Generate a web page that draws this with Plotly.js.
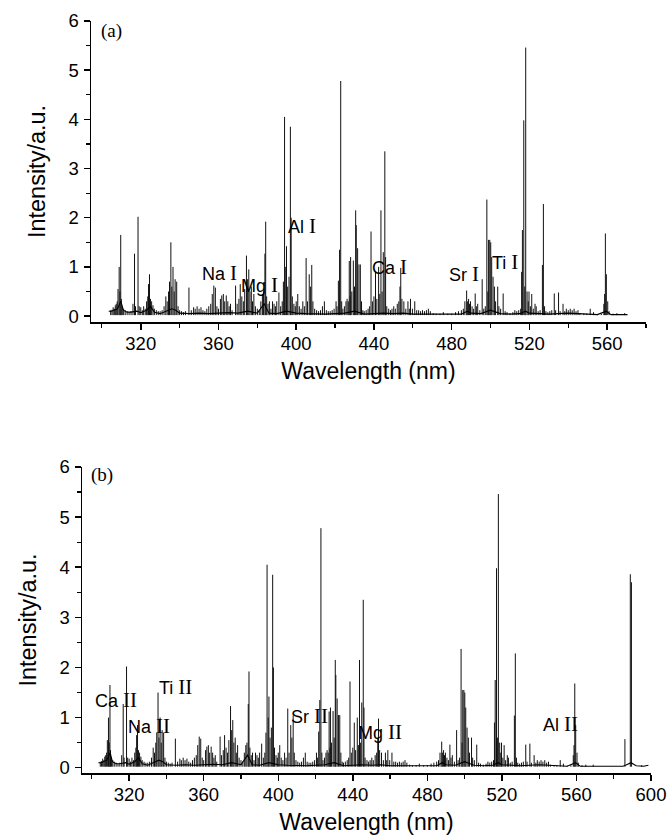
<!DOCTYPE html>
<html>
<head>
<meta charset="utf-8">
<script src="https://cdn.plot.ly/plotly-3.0.1.min.js"></script>
<style>
  html, body { margin: 0; padding: 0; background: #fff; }
  #chart { width: 672px; height: 838px; }
</style>
</head>
<body>
<div id="chart"></div>
<script>
// ---- Emission lines (wavelength in nm, intensity in a.u.) ----
const lineWl = [
  304.5,305.2,305.8,306.4,306.9,307.4,307.9,308.3,308.9,309.3,309.7,310.0,310.5,311.2,312.0,313.0,314.0,
  315.0,316.0,316.8,317.3,318.6,319.2,320.0,320.8,321.5,322.3,323.0,323.6,324.0,324.5,325.0,325.6,326.3,327.0,328.0,329.0,
  330.0,331.0,332.0,332.9,333.6,334.3,334.8,335.5,336.0,336.6,337.2,337.7,338.5,339.2,340.0,341.0,342.0,343.0,344.8,
  346.0,347.2,348.0,349.0,350.0,351.0,352.0,353.0,354.0,355.0,356.0,356.8,357.6,358.4,359.2,360.0,361.0,361.7,362.5,
  363.2,364.0,364.8,365.5,366.2,367.0,368.8,369.6,370.5,371.2,372.0,372.8,373.5,374.4,375.0,375.6,376.2,376.9,377.5,
  378.2,379.0,380.0,381.0,381.8,382.6,383.2,383.9,384.3,384.8,385.5,386.2,387.0,387.8,388.6,389.3,390.0,391.1,392.0,
  392.8,393.4,394.0,394.6,395.0,395.6,396.3,397.0,397.4,398.0,398.8,399.5,400.0,400.8,401.6,402.5,403.4,404.2,405.1,
  405.8,406.7,407.3,408.0,408.6,409.5,410.5,411.5,412.5,413.5,414.5,415.5,416.5,417.5,418.5,419.5,420.5,421.0,421.7,
  422.3,422.9,423.4,424.0,424.8,425.6,426.2,426.8,427.3,427.7,428.0,428.6,429.4,430.0,430.6,430.9,431.6,432.3,433.0,
  433.6,434.3,435.0,436.0,437.0,437.8,438.5,439.2,440.0,440.8,441.5,442.4,443.0,443.6,444.2,444.8,445.6,446.0,446.6,
  447.6,448.5,449.3,450.2,451.0,452.0,452.8,453.4,453.8,454.4,455.4,456.4,457.5,458.2,458.8,459.8,461.0,462.0,463.0,
  464.0,465.0,466.0,467.0,468.0,469.0,470.5,472.0,474.0,475.7,478.0,480.0,482.0,483.5,485.0,486.0,486.8,487.7,488.2,
  488.7,489.2,489.7,490.5,491.3,492.1,492.7,493.4,494.5,495.7,496.5,497.3,498.1,498.6,499.0,499.6,500.1,500.6,501.3,
  502.0,502.6,503.7,504.3,505.2,506.5,507.5,508.5,510.0,511.5,512.5,513.5,514.5,515.5,516.0,516.4,517.1,517.6,518.1,
  518.8,519.4,519.8,520.5,521.2,522.0,522.9,523.5,524.5,525.5,526.7,527.2,527.8,528.5,529.5,530.5,531.5,532.8,533.5,
  535.0,535.8,537.3,538.2,539.0,540.0,541.0,542.0,543.0,544.0,545.0,546.0,548.0,549.5,551.3,553.0,555.0,557.0,558.3,
  558.7,559.1,559.6,560.3,561.0,563.0,565.0,569.0
];
const lineInt = [
  0.12,0.13,0.18,0.15,0.22,0.25,0.30,0.55,1.00,0.50,1.65,0.35,0.20,0.15,0.12,0.10,0.08,
  0.10,0.25,1.27,0.20,2.02,0.20,0.18,0.12,0.20,0.15,0.30,0.40,0.65,0.85,0.35,0.30,0.22,0.15,0.12,0.10,
  0.10,0.12,0.20,0.40,0.30,0.50,0.70,1.50,0.60,1.00,0.50,0.75,0.70,0.20,0.12,0.10,0.08,0.10,0.58,
  0.12,0.18,0.15,0.20,0.15,0.18,0.12,0.10,0.15,0.20,0.25,0.45,0.62,0.58,0.20,0.15,0.35,0.42,0.45,
  0.30,0.42,0.30,0.20,0.25,0.12,0.62,0.25,0.35,0.65,0.40,0.30,0.55,1.23,0.75,0.95,0.50,0.60,0.30,
  0.45,0.20,0.15,0.12,0.30,0.45,0.50,1.27,1.92,0.40,0.25,0.30,0.15,0.30,0.25,0.20,0.30,0.48,0.20,
  0.30,0.70,4.05,1.00,1.42,0.60,0.80,3.85,2.00,0.40,0.25,0.20,0.30,0.45,0.20,0.15,0.30,0.20,1.18,
  0.30,0.85,0.60,1.04,0.30,0.15,0.12,0.10,0.12,0.20,0.30,0.12,0.10,0.10,0.12,0.15,0.30,0.20,0.72,
  1.35,4.78,0.30,0.15,0.20,0.30,0.35,0.30,1.12,0.40,1.20,0.50,1.13,0.60,2.15,1.85,1.38,1.05,1.05,
  0.30,0.12,0.10,0.12,0.15,0.20,1.72,0.30,0.40,0.90,0.35,1.00,0.45,2.15,0.50,1.30,3.35,1.20,0.20,
  0.15,0.12,0.15,0.20,0.15,0.25,0.30,0.60,0.98,0.35,0.30,0.15,0.30,0.15,0.35,0.15,0.30,0.12,0.12,
  0.10,0.12,0.10,0.12,0.15,0.10,0.06,0.05,0.05,0.08,0.05,0.05,0.08,0.10,0.12,0.15,0.30,0.52,0.30,
  0.35,0.25,0.30,0.20,0.15,0.46,0.20,0.25,0.12,0.75,0.15,0.20,2.37,0.50,1.55,1.55,1.50,1.20,0.80,
  0.60,0.30,0.60,0.20,0.15,0.46,0.10,0.08,0.06,0.08,0.12,0.10,0.12,0.15,0.90,1.75,3.98,0.60,5.46,
  0.50,0.30,0.50,0.20,0.45,0.15,0.25,0.20,0.10,0.12,1.04,2.28,0.20,0.10,0.08,0.10,0.12,0.46,0.12,
  0.48,0.10,0.25,0.10,0.15,0.12,0.15,0.12,0.15,0.10,0.12,0.06,0.05,0.05,0.15,0.08,0.04,0.05,0.25,
  0.45,1.68,0.85,0.30,0.10,0.05,0.06,0.06
];
// extra lines only in the extended range of panel (b)
const extraWl  = [586.0, 588.9, 589.5, 595.0];
const extraInt = [0.57, 3.86, 3.70, 0.05];

// ---- Continuum (baseline) ----
const baseWl = [303.5,305,308,309.8,311,313,315,318,320,323,325,327,330,333,336,338,340,345,350,355,360,365,370,375,
  380,383.5,386,390,395,400,405,410,415,420,425,430,435,440,445,450,455,460,465,470,475,480,485,488,490,495,500,505,
  510,515,518,520,525,530,535,540,545,550,555,559.5,562,566,570.5];
const baseInt = [0.10,0.10,0.15,0.30,0.12,0.08,0.08,0.10,0.07,0.12,0.20,0.08,0.05,0.10,0.15,0.12,0.06,0.05,0.06,0.05,
  0.06,0.07,0.06,0.10,0.06,0.25,0.06,0.05,0.10,0.06,0.05,0.04,0.04,0.05,0.06,0.10,0.04,0.05,0.06,0.05,0.06,0.04,0.04,
  0.03,0.03,0.03,0.04,0.10,0.06,0.05,0.12,0.05,0.04,0.05,0.10,0.06,0.05,0.04,0.05,0.06,0.05,0.04,0.03,0.10,0.03,0.03,0.03];
const extraBaseWl  = [575, 580, 585, 586.3, 589.3, 592, 596, 598.6];
const extraBaseInt = [0.02, 0.02, 0.03, 0.05, 0.10, 0.04, 0.03, 0.05];

// ---- Axis ticks ----
const xTickStep = 40, xMinorStep = 20, yTickStep = 1, yMinorStep = 0.5;

// ---- Labels ----
const labelsA = [
  {el:'Na', ion:'I', wl:350.3, y:0.87},
  {el:'Mg', ion:'I', wl:370.7, y:0.64},
  {el:'Al', ion:'I', wl:394.9, y:1.84},
  {el:'Ca', ion:'I', wl:437.9, y:0.99},
  {el:'Sr', ion:'I', wl:477.4, y:0.85},
  {el:'Ti', ion:'I', wl:499.5, y:1.09}
];
const labelsB = [
  {el:'Ca', ion:'II', wl:300.6, y:1.35},
  {el:'Na', ion:'II', wl:318.3, y:0.83},
  {el:'Ti', ion:'II', wl:334.9, y:1.61},
  {el:'Sr', ion:'II', wl:405.8, y:1.03},
  {el:'Mg', ion:'II', wl:441.8, y:0.71},
  {el:'Al', ion:'II', wl:541.1, y:0.87}
];

function stems(wl, h) {
  const x = [], y = [];
  wl.forEach((w, i) => { x.push(w, w, null); y.push(0.02, h[i], null); });
  return {x, y};
}

const sA = stems(lineWl, lineInt);
const sB = stems(lineWl.concat(extraWl), lineInt.concat(extraInt));
const lineStyle = {color: '#111', width: 1.0};
const baseStyle = {color: '#000', width: 1.1};

const traces = [
  {x: sA.x, y: sA.y, xaxis: 'x', yaxis: 'y', type: 'scatter', mode: 'lines', line: lineStyle, connectgaps: false},
  {x: baseWl, y: baseInt, xaxis: 'x', yaxis: 'y', type: 'scatter', mode: 'lines', line: baseStyle},
  {x: sB.x, y: sB.y, xaxis: 'x2', yaxis: 'y2', type: 'scatter', mode: 'lines', line: lineStyle, connectgaps: false},
  {x: baseWl.concat(extraBaseWl), y: baseInt.concat(extraBaseInt), xaxis: 'x2', yaxis: 'y2', type: 'scatter', mode: 'lines', line: baseStyle}
];

const sans = 'Liberation Sans, Arial, sans-serif';
const serif = 'Liberation Serif, Times New Roman, serif';

function xax(domain, range, anchor) {
  return {
    domain, range, anchor,
    showline: true, linecolor: '#000', linewidth: 1.5, mirror: false,
    showgrid: false, zeroline: false,
    ticks: 'outside', ticklen: 6, tickwidth: 1.5, tickcolor: '#000',
    tick0: 0, dtick: xTickStep,
    minor: {ticks: 'outside', ticklen: 4, tickwidth: 1.2, tickcolor: '#000', dtick: xMinorStep, tick0: 0},
    tickfont: {family: sans, size: 18.5, color: '#000'},
    ticklabelstandoff: -2,
    title: {text: 'Wavelength (nm)', font: {family: sans, size: 23, color: '#000'}, standoff: 10}
  };
}
function yax(domain, range, anchor) {
  return {
    domain, range, anchor,
    showline: true, linecolor: '#000', linewidth: 1.5, mirror: false,
    showgrid: false, zeroline: false,
    ticks: 'outside', ticklen: 6, tickwidth: 1.5, tickcolor: '#000',
    tick0: 0, dtick: yTickStep,
    minor: {ticks: 'outside', ticklen: 4, tickwidth: 1.2, tickcolor: '#000', dtick: yMinorStep, tick0: 0},
    tickfont: {family: sans, size: 18.5, color: '#000'},
    ticklabelstandoff: 1,
    title: {text: 'Intensity/a.u.', font: {family: sans, size: 23.5, color: '#000'}, standoff: 16}
  };
}

function mkLabels(list, xr, yr) {
  return list.map(l => ({
    x: l.wl, y: l.y, xref: xr, yref: yr, xanchor: 'left', yanchor: 'middle', showarrow: false,
    text: l.el + ' <span style="font-family:' + serif + ';font-size:21px">' + l.ion + '</span>',
    font: {family: sans, size: 18, color: '#000'}
  }));
}

const annotations = mkLabels(labelsA, 'x', 'y').concat(mkLabels(labelsB, 'x2', 'y2')).concat([
  {x: 298.3, y: 5.8, xref: 'x', yref: 'y', xanchor: 'left', yanchor: 'middle', showarrow: false,
   text: '(a)', font: {family: serif, size: 19, color: '#000'}},
  {x: 298.2, y: 5.84, xref: 'x2', yref: 'y2', xanchor: 'left', yanchor: 'middle', showarrow: false,
   text: '(b)', font: {family: serif, size: 19, color: '#000'}}
]);

const layout = {
  width: 672, height: 838,
  margin: {l: 0, r: 0, t: 0, b: 0},
  paper_bgcolor: '#fff', plot_bgcolor: '#fff',
  showlegend: false,
  xaxis: xax([91/672, 646/672], [294.4, 580], 'y'),
  yaxis: yax([1 - 322/838, 1 - 21/838], [-0.12, 6], 'x'),
  xaxis2: xax([82/672, 651/672], [294.7, 600], 'y2'),
  yaxis2: yax([1 - 773/838, 1 - 467/838], [-0.106, 6], 'x2'),
  annotations
};

Plotly.newPlot('chart', traces, layout, {displayModeBar: false, staticPlot: true});
</script>
</body>
</html>
